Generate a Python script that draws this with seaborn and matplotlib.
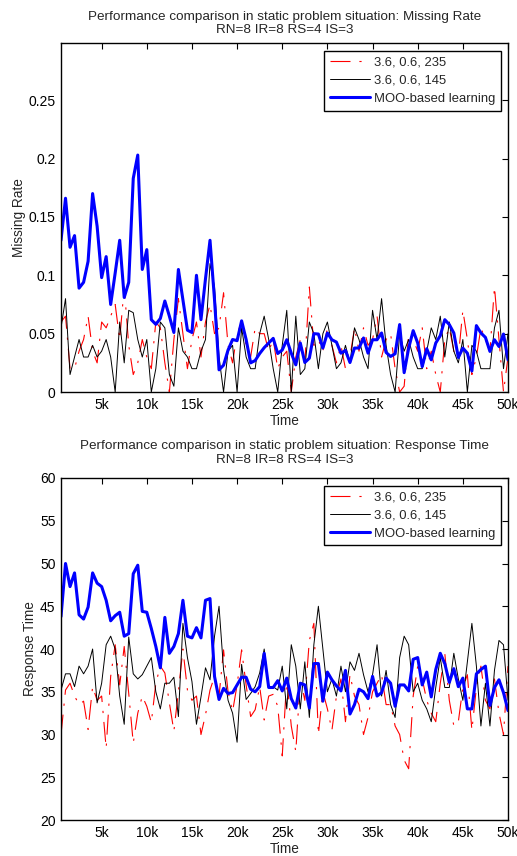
import numpy as np
import pandas as pd
import matplotlib
matplotlib.use("Agg")
import matplotlib.pyplot as plt
import seaborn as sns

# ---------------- data ----------------
time_k = [0.5 * (i + 1) for i in range(100)]  # 0.5k .. 50k

labels = ["3.6, 0.6, 235", "3.6, 0.6, 145", "MOO-based learning"]

miss_red = [0.06, 0.065, 0.02, 0.02, 0.035, 0.045, 0.065, 0.035, 0.025, 0.06,
            0.055, 0.065, 0.075, 0.045, 0.09, 0.04, 0.015, 0.025, 0.045, 0.03,
            0.02, 0.06, 0.055, 0.025, 0.0, 0.045, 0.08, 0.05, 0.02, 0.045,
            0.06, 0.03, 0.06, 0.075, 0.05, 0.055, 0.085, 0.04, 0.025, 0.05,
            0.06, 0.04, 0.03, 0.055, 0.05, 0.05, 0.035, 0.045, 0.02, 0.03,
            0.035, 0.0, 0.03, 0.045, 0.025, 0.09, 0.04, 0.045, 0.035, 0.055,
            0.04, 0.025, 0.04, 0.02, 0.03, 0.055, 0.035, 0.055, 0.04, 0.045,
            0.065, 0.03, 0.045, 0.05, 0.02, 0.0, 0.005, 0.05, 0.045, 0.035,
            0.055, 0.02, 0.035, 0.015, 0.0, 0.045, 0.055, 0.035, 0.03, 0.07,
            0.045, 0.015, 0.03, 0.055, 0.045, 0.035, 0.09, 0.045, 0.0, 0.03]

miss_black = [0.055, 0.080, 0.015, 0.030, 0.045, 0.030, 0.030, 0.040, 0.030, 0.035,
              0.045, 0.030, 0.000, 0.060, 0.025, 0.070, 0.068, 0.045, 0.030, 0.045,
              0.000, 0.020, 0.060, 0.055, 0.015, 0.005, 0.055, 0.035, 0.030, 0.020,
              0.020, 0.035, 0.045, 0.110, 0.090, 0.030, 0.000, 0.035, 0.040, 0.000,
              0.055, 0.030, 0.020, 0.020, 0.050, 0.065, 0.045, 0.020, 0.000, 0.040,
              0.070, 0.000, 0.065, 0.015, 0.020, 0.060, 0.050, 0.020, 0.050, 0.060,
              0.040, 0.020, 0.025, 0.040, 0.025, 0.055, 0.045, 0.030, 0.020, 0.070,
              0.045, 0.080, 0.040, 0.015, 0.000, 0.050, 0.035, 0.045, 0.030, 0.020,
              0.020, 0.035, 0.055, 0.045, 0.065, 0.030, 0.060, 0.035, 0.025, 0.045,
              0.000, 0.040, 0.035, 0.020, 0.020, 0.020, 0.055, 0.070, 0.020, 0.050]

miss_blue = [0.130, 0.166, 0.124, 0.134, 0.089, 0.094, 0.112, 0.170, 0.142, 0.098,
             0.116, 0.075, 0.102, 0.130, 0.081, 0.094, 0.183, 0.203, 0.105, 0.122,
             0.062, 0.058, 0.063, 0.078, 0.065, 0.051, 0.105, 0.079, 0.053, 0.051,
             0.100, 0.062, 0.097, 0.130, 0.079, 0.019, 0.023, 0.036, 0.045, 0.044,
             0.061, 0.045, 0.025, 0.027, 0.033, 0.038, 0.042, 0.046, 0.033, 0.036,
             0.0448, 0.0333, 0.0233, 0.042, 0.0253, 0.029, 0.050, 0.0497, 0.0377, 0.0506,
             0.0448, 0.0428, 0.0333, 0.0356, 0.0253, 0.0377, 0.0377, 0.0463, 0.0333, 0.0448,
             0.0448, 0.0506, 0.0339, 0.0305, 0.0328, 0.0578, 0.0166, 0.0377, 0.0526, 0.042,
             0.0218, 0.0371, 0.0276, 0.042, 0.0483, 0.062, 0.0578, 0.0506, 0.0296, 0.0377,
             0.0333, 0.018, 0.0569, 0.0506, 0.0468, 0.0348, 0.0448, 0.039, 0.0497, 0.0276]

resp_red = [30.0, 35.2, 36.0, 34.5, 33.5, 33.9, 30.6, 35.6, 34.0, 34.5,
            28.4, 36.8, 40.5, 35.8, 40.3, 34.8, 29.0, 32.5, 34.5, 33.3,
            31.4, 36.0, 38.0, 37.2, 33.7, 30.4, 35.0, 40.0, 35.2, 34.0,
            34.5, 30.0, 32.3, 35.2, 36.8, 34.5, 39.9, 35.0, 32.7, 35.8,
            39.9, 35.8, 32.1, 32.9, 35.6, 31.7, 34.5, 34.7, 33.3, 27.5,
            36.5, 31.0, 28.0, 36.5, 34.0, 41.0, 43.0, 30.0, 35.0, 33.0,
            30.5, 34.5, 36.5, 31.5, 37.0, 34.5, 33.5, 30.0, 32.0, 35.0,
            36.0, 37.0, 33.5, 33.5, 31.0, 30.0, 27.0, 26.0, 34.5, 38.0,
            36.5, 34.0, 32.5, 31.5, 36.0, 39.5, 34.0, 31.0, 31.5, 35.5,
            37.0, 30.5, 35.5, 38.0, 34.0, 33.0, 36.5, 32.5, 30.0, 38.0]

resp_black = [35.2, 37.1, 37.1, 35.6, 38.0, 37.1, 38.0, 40.0, 33.7, 36.0,
              40.5, 41.5, 40.0, 34.5, 31.2, 41.4, 37.1, 36.5, 37.0, 38.0,
              39.0, 35.0, 33.0, 36.0, 36.0, 36.7, 32.1, 43.0, 39.0, 36.2,
              31.2, 34.4, 37.8, 36.4, 41.5, 45.0, 37.6, 34.0, 32.5, 29.1,
              38.2, 34.1, 34.8, 35.6, 37.2, 40.0, 35.6, 35.6, 35.2, 38.0,
              33.0, 40.5, 38.0, 33.0, 38.5, 32.0, 40.5, 45.0, 40.0, 35.0,
              36.5, 34.5, 38.0, 35.0, 38.5, 37.5, 39.5, 37.0, 35.0, 37.0,
              40.5, 34.5, 37.5, 33.5, 32.0, 39.0, 41.5, 40.5, 35.0, 36.0,
              34.0, 33.0, 31.5, 35.5, 39.0, 35.5, 35.5, 39.5, 36.5, 34.0,
              38.5, 43.0, 38.0, 31.0, 36.0, 31.0, 37.5, 41.0, 40.5, 34.0]

resp_blue = [43.8, 50.0, 47.3, 48.9, 44.0, 43.5, 44.9, 48.9, 47.7, 47.3,
             45.7, 43.3, 43.9, 44.3, 41.5, 41.8, 48.8, 49.8, 44.4, 44.3,
             42.4, 40.3, 37.8, 43.7, 39.5, 40.3, 41.8, 45.7, 41.5, 41.3,
             42.5, 41.3, 45.7, 45.9, 36.8, 34.1, 35.4, 34.8, 34.9, 35.8,
             36.7, 36.7, 35.3, 35.0, 35.6, 39.5, 35.5, 35.5, 36.3, 35.1,
             36.6, 34.2, 33.1, 36.0, 35.8, 33.1, 38.3, 38.3, 33.9, 37.3,
             36.4, 35.7, 35.1, 37.5, 32.4, 33.5, 35.3, 35.0, 34.2, 36.8,
             34.5, 34.9, 36.6, 36.0, 33.3, 35.8, 35.8, 35.1, 38.8, 39.0,
             35.8, 37.3, 34.4, 37.6, 39.5, 38.3, 36.1, 37.7, 35.6, 36.6,
             33.0, 33.0, 37.1, 37.6, 38.0, 33.4, 35.5, 36.4, 34.9, 32.8]

xtick_vals = [5, 10, 15, 20, 25, 30, 35, 40, 45, 50]
xtick_labels = ["5k", "10k", "15k", "20k", "25k", "30k", "35k", "40k", "45k", "50k"]

# ---------------- style ----------------
sns.set_theme(style="white")
plt.rcParams["font.family"] = ["Liberation Sans", "DejaVu Sans"]
plt.rcParams["xtick.direction"] = "in"
plt.rcParams["ytick.direction"] = "in"
plt.rcParams["axes.edgecolor"] = "black"
plt.rcParams["axes.linewidth"] = 1.0

fig = plt.figure(figsize=(5.17, 8.56), dpi=100)
ax1 = fig.add_axes([0.118, 0.542, 0.8646, 0.4078])
ax2 = fig.add_axes([0.118, 0.042, 0.8646, 0.3996])

red_dash = (0, (18, 8, 2, 8))


def draw(ax, red, black, blue, ylim, yticks, yticklabels, ylabel, title, tpad):
    df = pd.DataFrame({"t": time_k, "red": red, "black": black, "blue": blue})
    sns.lineplot(data=df, x="t", y="red", ax=ax, color="#ff0000", linewidth=0.8,
                 linestyle=red_dash, label=labels[0], estimator=None)
    sns.lineplot(data=df, x="t", y="black", ax=ax, color="black", linewidth=0.7,
                 label=labels[1], estimator=None)
    sns.lineplot(data=df, x="t", y="blue", ax=ax, color="#0000ff", linewidth=2.2,
                 label=labels[2], estimator=None)
    ax.set_xlim(0.5, 50)
    ax.set_ylim(*ylim)
    ax.set_xticks(xtick_vals)
    ax.set_xticklabels(xtick_labels)
    ax.set_yticks(yticks)
    ax.set_yticklabels(yticklabels)
    ax.tick_params(axis="both", which="both", direction="in", length=4, width=0.8,
                   top=True, right=True, labelsize=10, pad=4, colors="black")
    for s in ax.spines.values():
        s.set_visible(True)
        s.set_color("black")
        s.set_linewidth(1.0)
    ax.set_xlabel("Time", fontsize=9.8, labelpad=2)
    ax.set_ylabel(ylabel, fontsize=9.8, labelpad=2)
    ax.set_title(title, fontsize=9.7, pad=tpad, linespacing=1.15)
    leg = ax.legend(loc="upper right", bbox_to_anchor=(0.985, 0.978), fontsize=9.4,
                    frameon=True, fancybox=False, edgecolor="black", framealpha=1,
                    handlelength=3.1, handletextpad=0.3, borderpad=0.45,
                    labelspacing=0.45, borderaxespad=0.0)
    leg.get_frame().set_linewidth(1.0)


draw(ax1, miss_red, miss_black, miss_blue, (0, 0.299),
     [0, 0.05, 0.1, 0.15, 0.2, 0.25], ["0", "0.05", "0.1", "0.15", "0.2", "0.25"],
     "Missing Rate",
     "Performance comparison in static problem situation: Missing Rate\nRN=8 IR=8 RS=4 IS=3",
     7)
draw(ax2, resp_red, resp_black, resp_blue, (20, 60),
     [20, 25, 30, 35, 40, 45, 50, 55, 60], ["20", "25", "30", "35", "40", "45", "50", "55", "60"],
     "Response Time",
     "Performance comparison in static problem situation: Response Time\nRN=8 IR=8 RS=4 IS=3",
     11)

fig.savefig("out.png", dpi=100, facecolor="white")
